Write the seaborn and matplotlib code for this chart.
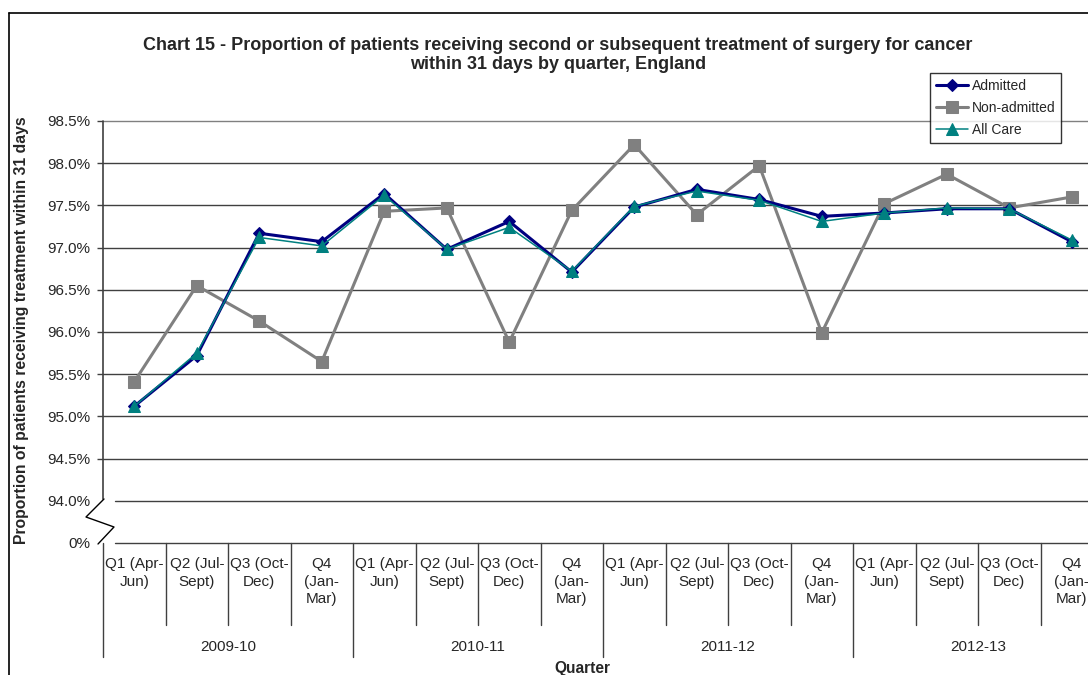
import matplotlib
matplotlib.use("Agg")
import matplotlib.pyplot as plt
import matplotlib.transforms as mtransforms
from matplotlib.lines import Line2D
import pandas as pd
import seaborn as sns

# Data (percent)
years = ["2009-10", "2010-11", "2011-12", "2012-13"]
quarters = ["Q1 (Apr-\nJun)", "Q2 (Jul-\nSept)", "Q3 (Oct-\nDec)", "Q4\n(Jan-\nMar)"]

admitted = [95.12, 95.72, 97.17, 97.07, 97.64, 96.98, 97.31, 96.71,
            97.48, 97.69, 97.57, 97.37, 97.41, 97.46, 97.46, 97.07]
non_admitted = [95.41, 96.55, 96.13, 95.65, 97.43, 97.47, 95.88, 97.44,
                98.22, 97.39, 97.97, 95.99, 97.52, 97.87, 97.47, 97.60]
all_care = [95.12, 95.75, 97.12, 97.02, 97.62, 96.98, 97.24, 96.72,
            97.49, 97.67, 97.56, 97.31, 97.41, 97.47, 97.46, 97.09]

y_ticks = [93.5, 94.0, 94.5, 95.0, 95.5, 96.0, 96.5, 97.0, 97.5, 98.0, 98.5]
y_labels = ["0%", "94.0%", "94.5%", "95.0%", "95.5%", "96.0%",
            "96.5%", "97.0%", "97.5%", "98.0%", "98.5%"]

n = len(admitted)
df = pd.DataFrame({"pos": range(n), "Admitted": admitted,
                   "Non-admitted": non_admitted, "All Care": all_care})

sns.set_style("white")
plt.rcParams["font.family"] = ["Liberation Sans", "DejaVu Sans"]

fig = plt.figure(figsize=(10.88, 6.75), dpi=100)
W, H = 1088, 675
ax_left, ax_right, ax_top, ax_bot = 103, 1103, 121, 543
ax = fig.add_axes([ax_left / W, 1 - ax_bot / H, (ax_right - ax_left) / W, (ax_bot - ax_top) / H])

grid_c = "#404040"
# gridlines (the two lowest leave a gap at left for the axis break)
for y in y_ticks:
    ax.axhline(y, xmin=0.012 if y < 94.5 else 0, xmax=1,
               color=grid_c if y < 98.5 else "#808080", lw=1, zorder=0, clip_on=False)

sns.lineplot(data=df, x="pos", y="Admitted", ax=ax, color="#000080", lw=2.2,
             marker="D", markersize=6, markeredgecolor="#000080", label="Admitted", zorder=3)
sns.lineplot(data=df, x="pos", y="Non-admitted", ax=ax, color="#808080", lw=2.2,
             marker="s", markersize=8, markeredgecolor="#808080", label="Non-admitted", zorder=2)
sns.lineplot(data=df, x="pos", y="All Care", ax=ax, color="#008080", lw=1.1,
             marker="^", markersize=8, markeredgecolor="#008080", label="All Care", zorder=4)

ax.set_xlim(-0.5, n - 0.5)
ax.set_ylim(93.5, 98.5)
ax.set_yticks(y_ticks)
ax.set_yticklabels(y_labels, fontsize=11)
ax.set_xticks([])
ax.set_xlabel("")
ax.set_ylabel("")
for s in ax.spines.values():
    s.set_visible(False)
ax.tick_params(axis="y", left=True, length=4, width=1, color=grid_c, pad=5)
ax.yaxis.get_major_ticks()[0].tick1line.set_visible(False)
ax.yaxis.get_major_ticks()[1].tick1line.set_visible(False)


def fx(px):
    return px / W


def fy(py):
    return 1 - py / H


# y axis with break, in figure pixels
fig.add_artist(Line2D([fx(103), fx(103)], [fy(121), fy(499)], color=grid_c, lw=1.2,
                      transform=fig.transFigure))
fig.add_artist(Line2D([fx(104), fx(86), fx(114), fx(98)], [fy(499), fy(517), fy(527), fy(544)],
                      color="black", lw=1, transform=fig.transFigure))

# category axis
trx = mtransforms.blended_transform_factory(ax.transData, ax.transAxes)
for k in range(n + 1):
    y_end = -0.270 if k % 4 == 0 else -0.194
    ax.add_line(Line2D([k - 0.5, k - 0.5], [0, y_end], color=grid_c, lw=1,
                       transform=trx, clip_on=False))
for i in range(n):
    ax.text(i, -0.034, quarters[i % 4], transform=trx, ha="center", va="top",
            fontsize=11, linespacing=1.3)
for j, yr in enumerate(years):
    ax.text(j * 4 + 1.5, -0.246, yr, transform=trx, ha="center", va="center", fontsize=11)

leg = ax.legend(loc="upper left", bbox_to_anchor=((930 - ax_left) / 1000, 1 + (121 - 73) / 422),
                fontsize=10, frameon=True, fancybox=False, edgecolor="black",
                handlelength=2.3, handletextpad=0.3, borderpad=0.4, labelspacing=0.6,
                borderaxespad=0)
leg.get_frame().set_linewidth(1)

fig.text(558 / W, 1 - 55 / H,
         "Chart 15 - Proportion of patients receiving second or subsequent treatment of surgery for cancer\n"
         "within 31 days by quarter, England",
         ha="center", va="center", fontsize=13, fontweight="bold", linespacing=1.22)
fig.text(22 / W, 1 - 330 / H, "Proportion of patients receiving treatment within 31 days",
         rotation=90, ha="center", va="center", fontsize=11.3, fontweight="bold")
fig.text(582 / W, 1 - 668 / H, "Quarter", ha="center", va="center", fontsize=11.2, fontweight="bold")

# outer chart frame
fig.add_artist(Line2D([fx(9), fx(9)], [0, fy(13)], color="black", lw=1.2, transform=fig.transFigure))
fig.add_artist(Line2D([fx(9), 1], [fy(13), fy(13)], color="black", lw=1.2, transform=fig.transFigure))

fig.savefig("out.png", dpi=100)
